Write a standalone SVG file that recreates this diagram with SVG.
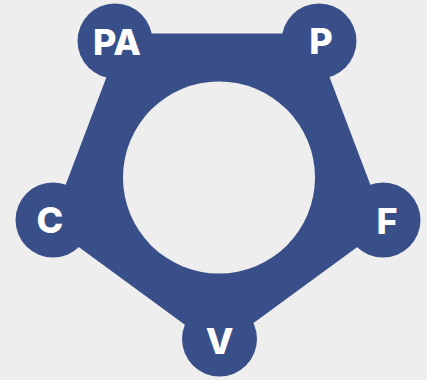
<svg xmlns="http://www.w3.org/2000/svg" width="427" height="380" viewBox="0 0 427 380">
<style>
.bg{fill:#eeeeee}
.shape{fill:#394f8a}
.node circle{fill:#394f8a}
.node text{fill:#ffffff;font-family:Inter,"Open Sans","DejaVu Sans",sans-serif;font-weight:800;font-size:36px;text-anchor:middle}
</style>
<rect class="bg" x="0" y="0" width="427" height="380"/>
<g id="connectors">
<polygon class="shape" points="123,33.5 313,33.5 386,226 218,349 50,226"/>
<circle class="bg" cx="219" cy="177.5" r="96"/>
</g>
<g id="node-PA" class="node"><circle cx="115" cy="41" r="37.5"/><text x="117" y="55">PA</text></g>
<g id="node-P" class="node"><circle cx="319" cy="41" r="37.5"/><text x="321" y="54">P</text></g>
<g id="node-F" class="node"><circle cx="383" cy="220" r="37.5"/><text x="387" y="234">F</text></g>
<g id="node-V" class="node"><circle cx="219.5" cy="339" r="37.5"/><text x="219.5" y="354">V</text></g>
<g id="node-C" class="node"><circle cx="53" cy="220" r="37.5"/><text x="50" y="233">C</text></g>
</svg>
